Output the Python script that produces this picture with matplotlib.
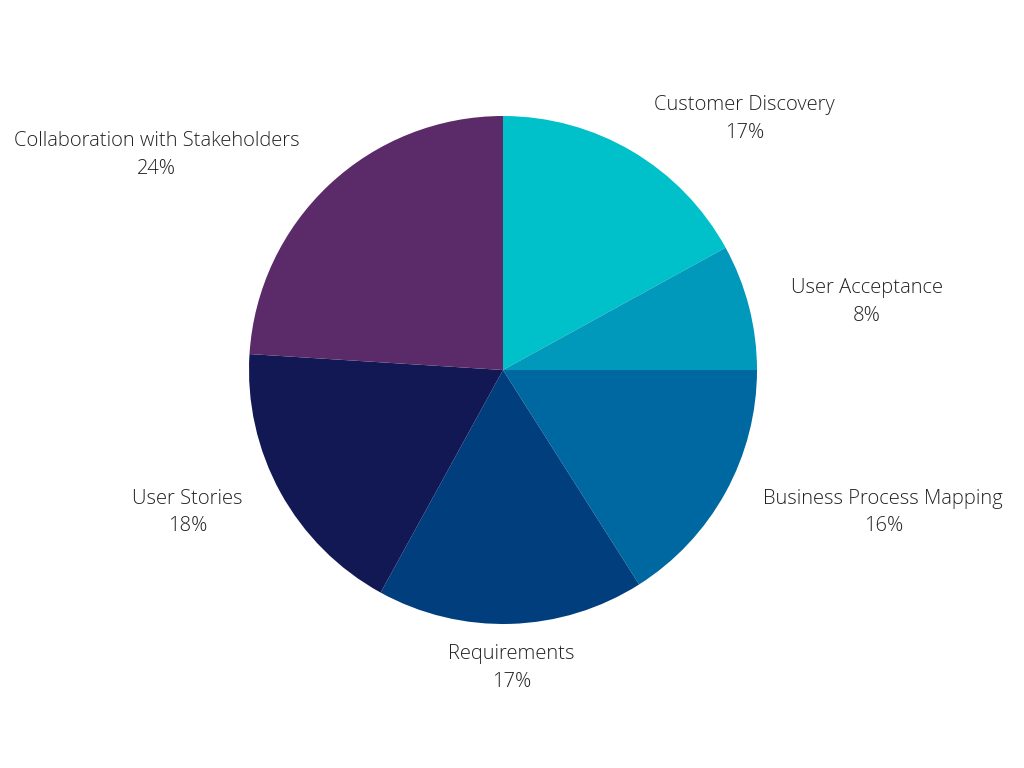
import numpy as np
import matplotlib
matplotlib.use("Agg")
import matplotlib.pyplot as plt

labels = ["Customer Discovery", "User Acceptance", "Business Process Mapping",
          "Requirements", "User Stories", "Collaboration with Stakeholders"]
values = [17, 8, 16, 17, 18, 24]
colors = ["#00C1CA", "#0098BB", "#0068A0", "#003E7E", "#111854", "#5A2A69"]

plt.rcParams['font.family'] = ['Open Sans', 'DejaVu Sans']

fig = plt.figure(figsize=(10.24, 7.68), dpi=100)
# center (503,370) radius 254 px
ax = fig.add_axes([(503 - 254) / 1024, 1 - (370 + 254) / 768, 508 / 1024, 508 / 768])
wedges, _ = ax.pie(values, colors=colors, startangle=90, counterclock=False,
                   radius=1.0, wedgeprops=dict(linewidth=0))
ax.set_xlim(-1, 1)
ax.set_ylim(-1, 1)
ax.set_aspect('equal')
ax.axis('off')

gap = 1.08
for w, lab, v in zip(wedges, labels, values):
    ang = np.deg2rad((w.theta1 + w.theta2) / 2)
    x, y = np.cos(ang), np.sin(ang)
    if abs(x) < 0.15:
        ha = 'center'
    elif x > 0:
        ha = 'left'
    else:
        ha = 'right'
    tx, ty = gap * x, gap * y
    if y > 0.6:
        va = 'bottom'
        ty -= 0.035
    elif y < -0.6:
        va = 'top'
    else:
        va = 'center'
        ty += 0.04 * np.sign(y) if abs(y) > 0.35 else 0.0
    if ha != 'center':
        tx += 0.09 * x
    ax.text(tx, ty, f"{lab}\n{v}%", ha=ha, va=va, multialignment='center',
            fontsize=14.5, fontweight='light', color='#222222', linespacing=1.5,
            clip_on=False)

fig.savefig("out.png", dpi=100, facecolor='white')
